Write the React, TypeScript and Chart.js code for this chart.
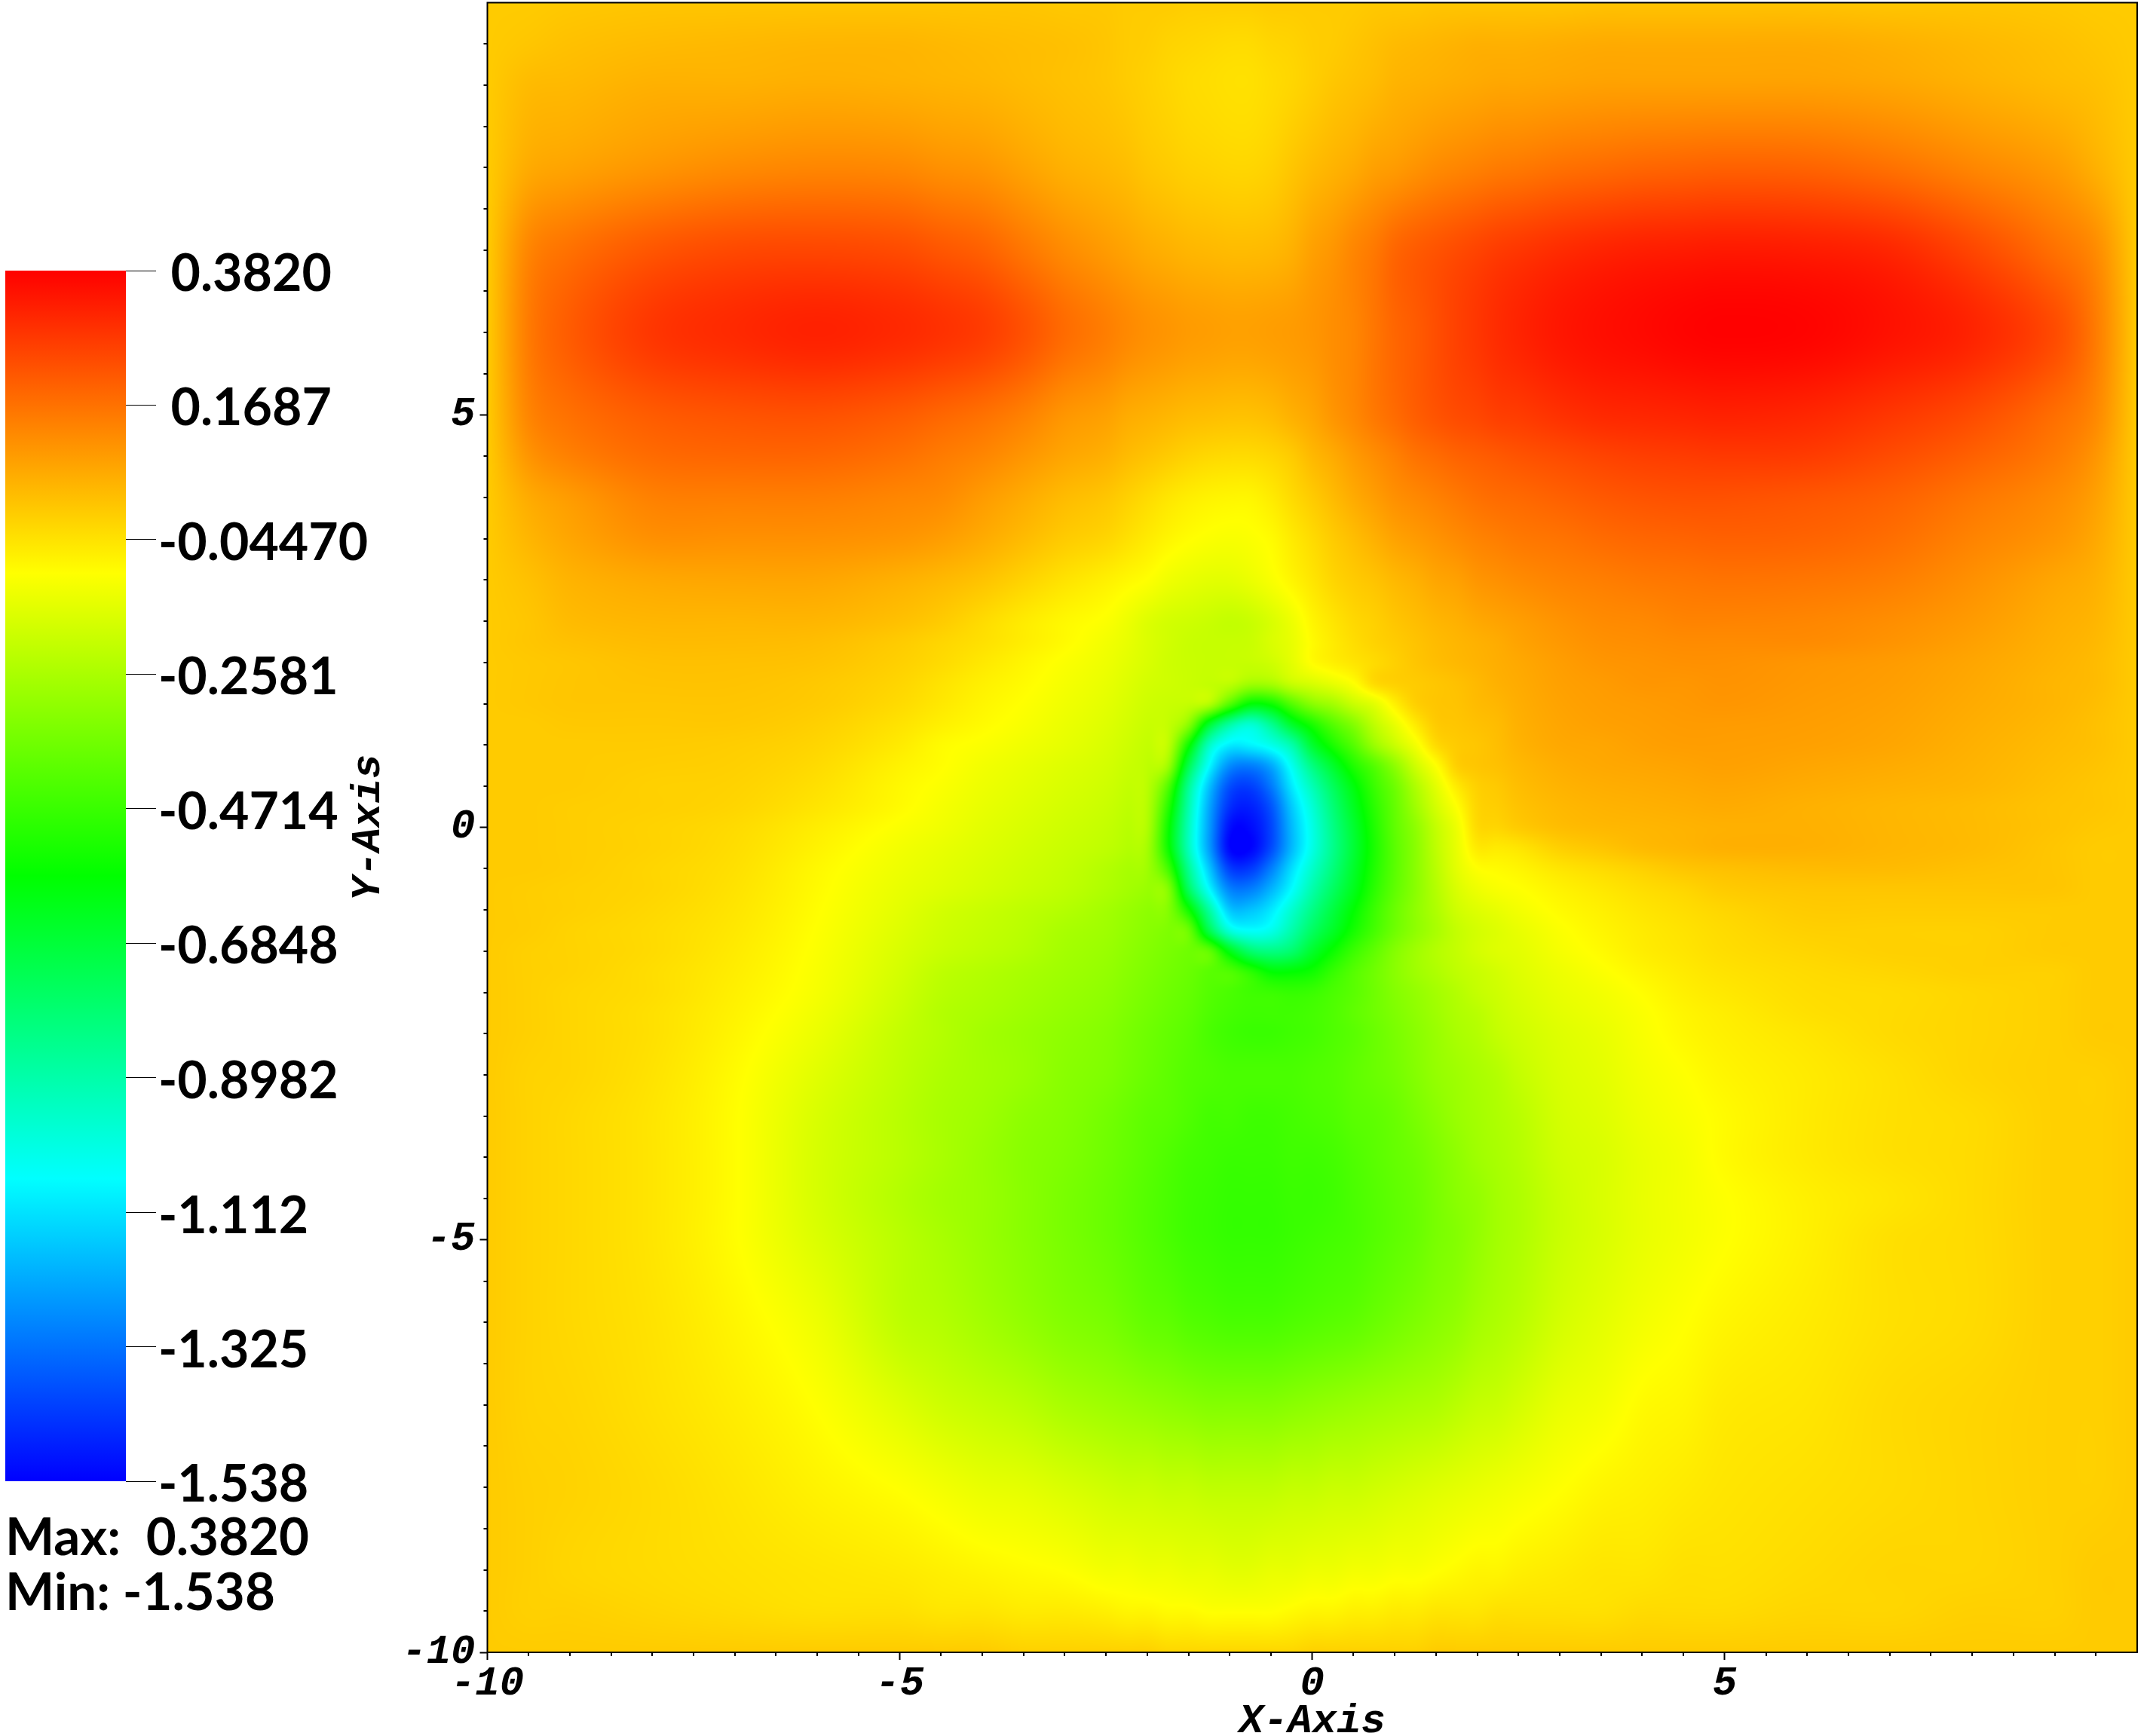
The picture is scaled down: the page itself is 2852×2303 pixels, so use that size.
import React, { useEffect, useRef } from "react";
import { Chart, registerables } from "chart.js";

Chart.register(...registerables);

const valueMin = -1.538;
const valueMax = 0.382;
const legendTickValues = [0.382, 0.1687, -0.0447, -0.2581, -0.4714, -0.6848, -0.8982, -1.112, -1.325, -1.538];
const legendTickLabels = [" 0.3820", " 0.1687", "-0.04470", "-0.2581", "-0.4714", "-0.6848", "-0.8982", "-1.112", "-1.325", "-1.538"];
const legendMaxText = "Max:  0.3820";
const legendMinText = "Min: -1.538";
const majorTicks = [-10, -5, 0, 5];
const minorTicks = [-9.5,-9,-8.5,-8,-7.5,-7,-6.5,-6,-5.5,-4.5,-4,-3.5,-3,-2.5,-2,-1.5,-1,-0.5,0.5,1,1.5,2,2.5,3,3.5,4,4.5,5.5,6,6.5,7,7.5,8,8.5,9,9.5];
const xTitle = "X-Axis";
const yTitle = "Y-Axis";

const xNodes = [-10,-9.5,-9,-8,-7,-6,-5,-4.5,-4,-3.5,-3,-2.5,-2.25,-2,-1.75,-1.5,-1.25,-1,-.75,-.5,-.25,0,.25,.5,.75,1,1.25,1.5,1.75,2,2.25,2.5,3,3.5,4,4.5,5,6,7,8,9,9.5,10];
const yNodes = [10,9.5,9,8,7,6,5,4.5,4,3.5,3,2.5,2.25,2,1.75,1.5,1.25,1,.75,.5,.25,0,-.25,-.5,-.75,-1,-1.25,-1.5,-1.75,-2,-2.25,-2.5,-3,-3.5,-4,-4.5,-5,-6,-7,-8,-9,-9.5,-10];

const fieldRows = [
[0,0,.005,.01,.01,.01,.01,.01,.01,.01,.005, .005,0,0,0,-.005,-.005,-.005,-.005,0,0,0,0,0,.005,.005,.005,.01,.01,.01,.01,.01, .01,.015,.015,.015,.015,.015,.01,.01,.005,0,0],
[0,.01,.02,.03,.035,.04,.04,.035,.03,.025,.02, .01,0,-.005,-.015,-.02,-.025,-.03,-.03,-.02,-.015,-.005,0,.01,.02,.03,.035,.04,.045,.05,.05,.05, .055,.06,.06,.06,.06,.06,.05,.035,.02,.01,0],
[0,.03,.035,.05,.05,.055,.05,.045,.04,.03,.02, .01,0,-.01,-.02,-.03,-.035,-.04,-.04,-.03,-.02,-.005,.01,.02,.03,.045,.05,.055,.06,.065,.07,.07, .075,.08,.08,.08,.08,.08,.07,.05,.03,.02,0],
[0,.06,.075,.1,.12,.13,.125,.11,.1,.075,.05, .035,.025,.01,0,-.01,-.015,-.02,-.02,-.01,.01,.03,.045,.06,.08,.09,.105,.12,.13,.14,.15,.155, .17,.18,.19,.195,.2,.195,.17,.13,.09,.05,0],
[0,.13,.17,.22,.245,.25,.24,.22,.2,.16,.12, .09,.075,.06,.05,.04,.035,.03,.03,.035,.05,.08,.1,.13,.155,.19,.21,.225,.24,.255,.27,.28, .3,.315,.325,.33,.335,.33,.31,.25,.17,.12,0],
[0,.15,.21,.28,.305,.32,.305,.29,.27,.23,.18, .145,.125,.11,.1,.09,.085,.08,.08,.085,.09,.1,.115,.13,.16,.19,.21,.235,.26,.28,.3,.315, .34,.355,.365,.375,.38,.375,.35,.315,.24,.15,0],
[0,.13,.17,.21,.225,.23,.21,.19,.17,.14,.1, .08,.06,.05,.04,.03,.025,.02,.02,.03,.05,.07,.1,.125,.155,.18,.205,.225,.24,.25,.265,.27, .29,.305,.31,.315,.32,.31,.28,.24,.175,.125,0],
[0,.1,.14,.18,.19,.19,.17,.15,.13,.1,.07, .05,.03,.015,0,-.015,-.025,-.03,-.03,-.02,0,.035,.06,.09,.115,.14,.165,.18,.195,.205,.215,.225, .24,.255,.265,.27,.275,.27,.24,.2,.15,.1,0],
[0,.06,.09,.14,.145,.145,.13,.12,.09,.06,.03, .01,-.01,-.03,-.05,-.065,-.075,-.08,-.08,-.06,-.03,0,.03,.06,.085,.11,.125,.14,.155,.17,.18,.185, .2,.215,.225,.23,.23,.22,.2,.16,.12,.08,0],
[0,.04,.07,.11,.11,.11,.1,.085,.06,.03,0, -.02,-.04,-.06,-.08,-.095,-.105,-.11,-.105,-.09,-.06,-.03,0,.025,.05,.075,.09,.105,.12,.135,.145,.155, .165,.18,.19,.195,.2,.195,.175,.135,.1,.065,0],
[0,.02,.045,.065,.07,.07,.05,.035,.015,-.015,-.045, -.07,-.085,-.1,-.125,-.14,-.15,-.15,-.135,-.11,-.08,-.05,-.02,0,.015,.035,.05,.07,.08,.1,.11,.12, .135,.145,.155,.16,.165,.16,.145,.11,.07,.05,0],
[0,.01,.03,.04,.04,.04,.02,0,-.03,-.06,-.085, -.105,-.13,-.16,-.18,-.19,-.2,-.21,-.2,-.17,-.13,-.08,-.05,-.025,-.01,.01,.025,.04,.05,.065,.075,.085, .105,.12,.125,.135,.135,.13,.115,.09,.055,.04,0],
[0,.01,.02,.03,.03,.025,0,-.02,-.04,-.065,-.09, -.12,-.14,-.165,-.185,-.2,-.205,-.205,-.2,-.17,-.14,-.09,-.06,-.035,-.015,0,.015,.03,.04,.05,.06,.075, .095,.11,.115,.12,.12,.12,.105,.08,.05,.035,0],
[0,.005,.01,.02,.02,.015,-.01,-.03,-.055,-.08,-.105, -.13,-.15,-.17,-.19,-.2,-.205,-.205,-.205,-.19,-.15,-.095,-.07,-.05,-.03,-.01,.01,.025,.035,.045,.055,.065, .085,.1,.105,.11,.11,.1,.09,.07,.045,.03,0],
[0,.005,.01,.015,.015,.005,-.02,-.045,-.07,-.09,-.115, -.14,-.16,-.18,-.19,-.2,-.21,-.22,-.27,-.26,-.2,-.17,-.14,-.1,-.03,-.01,0,.01,.02,.035,.05,.06, .08,.09,.1,.1,.105,.095,.085,.065,.04,.03,0],
[0,.005,.01,.01,.01,0,-.03,-.055,-.08,-.1,-.125, -.15,-.17,-.19,-.2,-.21,-.24,-.42,-.58,-.55,-.42,-.32,-.27,-.2,-.15,-.07,-.01,.01,.015,.03,.04,.055, .075,.085,.09,.095,.1,.09,.08,.06,.04,.025,0],
[0,0,.005,.005,.005,-.01,-.045,-.07,-.09,-.11,-.135, -.16,-.18,-.2,-.21,-.32,-.66,-.88,-.97,-.85,-.66,-.53,-.42,-.33,-.22,-.14,-.06,0,.01,.02,.03,.05, .07,.08,.085,.09,.09,.085,.075,.055,.035,.02,0],
[0,0,0,0,-.005,-.02,-.06,-.09,-.105,-.125,-.145, -.17,-.19,-.21,-.22,-.55,-.94,-1.09,-1.08,-1.02,-.9,-.67,-.53,-.42,-.29,-.2,-.12,-.03,0,.01,.025,.045, .065,.07,.08,.085,.085,.08,.07,.05,.03,.02,0],
[0,0,0,-.005,-.01,-.03,-.075,-.095,-.12,-.14,-.16, -.18,-.2,-.22,-.28,-.72,-1.06,-1.27,-1.3,-1.22,-1.03,-.82,-.66,-.52,-.42,-.31,-.19,-.1,-.01,.01,.02,.035, .055,.065,.07,.075,.08,.07,.06,.045,.025,.015,0],
[0,0,0,-.01,-.015,-.04,-.085,-.105,-.13,-.15,-.17, -.19,-.21,-.23,-.42,-.85,-1.17,-1.39,-1.42,-1.31,-1.1,-.92,-.75,-.6,-.47,-.37,-.25,-.15,-.06,-.01,.005,.025, .045,.055,.06,.065,.07,.06,.05,.04,.02,.01,0],
[0,0,-.005,-.01,-.02,-.05,-.09,-.115,-.14,-.16,-.18, -.2,-.22,-.24,-.5,-.9,-1.22,-1.45,-1.48,-1.38,-1.16,-.98,-.8,-.64,-.5,-.39,-.28,-.18,-.1,-.02,-.005,.015, .035,.045,.05,.055,.06,.05,.04,.03,.015,.01,0],
[0,0,-.005,-.015,-.03,-.065,-.105,-.125,-.15,-.17,-.19, -.21,-.23,-.25,-.55,-.93,-1.24,-1.51,-1.52,-1.41,-1.19,-1.01,-.83,-.67,-.52,-.4,-.31,-.21,-.13,-.03,-.02,0, .025,.035,.04,.045,.05,.05,.04,.03,.015,.005,0],
[0,0,-.005,-.015,-.035,-.075,-.12,-.14,-.16,-.18,-.2, -.22,-.24,-.27,-.55,-.93,-1.24,-1.53,-1.535,-1.4,-1.19,-1.01,-.84,-.68,-.53,-.41,-.32,-.22,-.14,-.06,-.06,-.05, -.01,.01,.03,.04,.05,.05,.04,.03,.01,0,0],
[0,0,-.005,-.02,-.04,-.085,-.13,-.15,-.17,-.19,-.21, -.24,-.26,-.28,-.45,-.85,-1.16,-1.42,-1.43,-1.3,-1.12,-.96,-.81,-.66,-.52,-.41,-.32,-.23,-.15,-.1,-.09,-.08, -.05,-.03,-.01,.01,.02,.03,.03,.02,.01,0,0],
[0,-.005,-.01,-.02,-.045,-.09,-.14,-.16,-.18,-.2,-.22, -.25,-.27,-.29,-.33,-.75,-1.06,-1.29,-1.3,-1.2,-1.06,-.9,-.76,-.63,-.5,-.4,-.32,-.24,-.17,-.13,-.11,-.1, -.075,-.055,-.035,-.02,0,.01,.01,.01,.01,0,0],
[0,-.005,-.01,-.025,-.05,-.095,-.15,-.18,-.2,-.22,-.24, -.27,-.29,-.31,-.33,-.55,-.88,-1.16,-1.17,-1.1,-.97,-.83,-.7,-.58,-.47,-.38,-.31,-.25,-.19,-.16,-.14,-.12, -.09,-.07,-.05,-.035,-.02,0,0,0,0,0,0],
[0,-.005,-.015,-.03,-.055,-.1,-.16,-.19,-.21,-.23,-.26, -.28,-.3,-.32,-.34,-.38,-.72,-.99,-1.05,-1.02,-.9,-.76,-.65,-.54,-.45,-.37,-.31,-.26,-.21,-.18,-.16,-.14, -.105,-.08,-.06,-.045,-.03,-.01,-.01,-.01,0,0,0],
[0,-.01,-.015,-.03,-.06,-.105,-.17,-.2,-.22,-.24,-.27, -.29,-.31,-.33,-.35,-.37,-.4,-.62,-.78,-.82,-.78,-.66,-.56,-.47,-.4,-.33,-.28,-.24,-.21,-.18,-.16,-.15, -.115,-.09,-.065,-.05,-.035,-.02,-.01,-.01,0,0,0],
[0,-.01,-.015,-.035,-.065,-.11,-.18,-.22,-.24,-.26,-.28, -.3,-.32,-.34,-.36,-.38,-.41,-.43,-.5,-.58,-.58,-.55,-.48,-.42,-.37,-.32,-.28,-.25,-.22,-.2,-.18,-.16, -.13,-.105,-.08,-.06,-.045,-.03,-.02,-.01,-.01,0,0],
[0,-.01,-.02,-.035,-.07,-.115,-.19,-.23,-.25,-.27,-.29, -.31,-.33,-.35,-.37,-.39,-.42,-.44,-.46,-.47,-.48,-.47,-.44,-.41,-.37,-.33,-.3,-.27,-.24,-.21,-.19,-.17, -.14,-.12,-.095,-.07,-.055,-.035,-.03,-.02,-.01,0,0],
[0,-.01,-.02,-.04,-.075,-.125,-.2,-.24,-.26,-.28,-.3, -.32,-.34,-.36,-.38,-.4,-.43,-.45,-.46,-.46,-.46,-.45,-.43,-.4,-.37,-.34,-.31,-.28,-.25,-.23,-.2,-.18, -.15,-.13,-.105,-.08,-.065,-.04,-.03,-.02,-.01,0,0],
[0,-.01,-.02,-.04,-.08,-.135,-.21,-.24,-.27,-.29,-.31, -.33,-.35,-.37,-.39,-.41,-.44,-.46,-.47,-.47,-.46,-.45,-.43,-.41,-.38,-.35,-.32,-.29,-.26,-.24,-.21,-.19, -.16,-.14,-.11,-.085,-.07,-.05,-.03,-.02,-.01,0,0],
[0,-.015,-.02,-.045,-.09,-.155,-.22,-.25,-.27,-.29,-.32, -.34,-.36,-.38,-.4,-.42,-.43,-.44,-.44,-.44,-.44,-.43,-.42,-.4,-.38,-.36,-.33,-.3,-.28,-.26,-.24,-.21, -.17,-.15,-.12,-.1,-.08,-.06,-.04,-.02,-.01,-.01,0],
[0,-.015,-.025,-.05,-.095,-.17,-.23,-.26,-.28,-.31,-.33, -.36,-.38,-.4,-.41,-.43,-.45,-.45,-.46,-.46,-.45,-.44,-.43,-.41,-.4,-.38,-.35,-.32,-.29,-.27,-.25,-.23, -.18,-.16,-.13,-.11,-.09,-.06,-.04,-.03,-.01,-.01,0],
[0,-.015,-.025,-.05,-.095,-.175,-.23,-.26,-.29,-.32,-.34, -.37,-.39,-.41,-.43,-.45,-.46,-.47,-.47,-.47,-.46,-.46,-.45,-.43,-.41,-.39,-.37,-.34,-.31,-.28,-.26,-.24, -.19,-.17,-.14,-.12,-.09,-.06,-.04,-.03,-.01,-.01,0],
[0,-.015,-.025,-.05,-.095,-.175,-.24,-.27,-.29,-.32,-.35, -.38,-.4,-.42,-.44,-.46,-.47,-.48,-.48,-.48,-.47,-.47,-.46,-.44,-.42,-.4,-.38,-.35,-.32,-.3,-.27,-.25, -.2,-.17,-.14,-.12,-.1,-.07,-.05,-.03,-.01,-.01,0],
[0,-.015,-.025,-.05,-.095,-.165,-.23,-.26,-.29,-.32,-.35, -.38,-.4,-.42,-.44,-.46,-.47,-.48,-.48,-.48,-.47,-.46,-.45,-.44,-.42,-.4,-.38,-.35,-.33,-.3,-.27,-.25, -.2,-.17,-.14,-.12,-.1,-.07,-.04,-.03,-.01,-.01,0],
[0,-.015,-.025,-.045,-.08,-.13,-.22,-.24,-.27,-.3,-.33, -.35,-.37,-.39,-.4,-.42,-.43,-.44,-.44,-.44,-.43,-.42,-.41,-.4,-.38,-.36,-.34,-.32,-.3,-.27,-.25,-.23, -.18,-.15,-.12,-.1,-.08,-.06,-.04,-.03,-.01,-.01,0],
[0,-.015,-.02,-.04,-.065,-.1,-.16,-.19,-.21,-.23,-.26, -.28,-.29,-.3,-.31,-.32,-.33,-.33,-.33,-.33,-.32,-.31,-.3,-.29,-.28,-.27,-.26,-.25,-.23,-.21,-.2,-.18, -.14,-.12,-.09,-.08,-.06,-.05,-.03,-.02,-.01,-.01,0],
[0,-.01,-.015,-.03,-.05,-.075,-.1,-.12,-.14,-.15,-.17, -.19,-.2,-.2,-.21,-.21,-.22,-.22,-.22,-.22,-.21,-.21,-.2,-.2,-.19,-.18,-.17,-.16,-.15,-.14,-.13,-.12, -.1,-.08,-.07,-.06,-.05,-.04,-.03,-.02,-.01,-.01,0],
[0,-.01,-.02,-.03,-.04,-.05,-.06,-.07,-.08,-.09,-.1, -.12,-.12,-.13,-.13,-.14,-.14,-.15,-.15,-.14,-.14,-.13,-.13,-.12,-.12,-.11,-.11,-.1,-.09,-.08,-.08,-.07, -.06,-.05,-.05,-.04,-.04,-.03,-.02,-.02,-.01,0,0],
[0,-.01,-.01,-.02,-.03,-.04,-.04,-.05,-.05,-.06,-.06, -.07,-.08,-.08,-.09,-.09,-.1,-.1,-.1,-.1,-.09,-.08,-.08,-.07,-.07,-.06,-.06,-.05,-.05,-.05,-.04,-.04, -.04,-.04,-.03,-.03,-.03,-.02,-.02,-.01,-.01,0,0],
[0,0,0,0,0,0,0,0,0,-.01,-.01, -.01,-.01,-.01,-.02,-.02,-.02,-.02,-.02,-.02,-.02,-.01,-.01,-.01,-.01,-.01,-.01,0,0,0,0,0, 0,0,0,0,0,0,0,0,0,0,0],
];

const colorStops = [
  [0, 0, 0, 255],
  [0.25, 0, 255, 255],
  [0.5, 0, 255, 0],
  [0.75, 255, 255, 0],
  [1, 255, 0, 0],
];

function colorAt(t: number): number[] {
  const c = Math.max(0, Math.min(1, t));
  for (let i = 0; i < colorStops.length - 1; i++) {
    const a = colorStops[i];
    const b = colorStops[i + 1];
    if (c <= b[0]) {
      const f = (c - a[0]) / (b[0] - a[0]);
      return [a[1] + (b[1] - a[1]) * f, a[2] + (b[2] - a[2]) * f, a[3] + (b[3] - a[3]) * f];
    }
  }
  return [255, 0, 0];
}

const TENSION = 1;

// Hermite weights of a shading position between grid nodes (renderer only, data stays as read).
function nodeWeights(nodes: number[], value: number) {
  const last = nodes.length - 1;
  const asc = nodes[last] > nodes[0];
  let i = 0;
  while (i < last - 1 && (asc ? nodes[i + 1] <= value : nodes[i + 1] >= value)) i++;
  const i0 = Math.max(0, i - 1);
  const i3 = Math.min(last, i + 2);
  const h = nodes[i + 1] - nodes[i];
  const t = Math.max(0, Math.min(1, (value - nodes[i]) / h));
  const t2 = t * t;
  const t3 = t2 * t;
  const h00 = 2 * t3 - 3 * t2 + 1;
  const h10 = t3 - 2 * t2 + t;
  const h01 = -2 * t3 + 3 * t2;
  const h11 = t3 - t2;
  const ka = (TENSION * h) / (nodes[i + 1] - nodes[i0]);
  const kb = (TENSION * h) / (nodes[i3] - nodes[i]);
  const idx = [i0, i, i + 1, i3];
  const w = [-h10 * ka, h00 - h11 * kb, h01 + h10 * ka, h11 * kb];
  return { idx, w };
}

const heatmapShading = {
  id: "heatmapShading",
  beforeDatasetsDraw(chart: any) {
    const { ctx, chartArea, scales } = chart;
    const left = Math.round(chartArea.left);
    const top = Math.round(chartArea.top);
    const w = Math.round(chartArea.right) - left;
    const h = Math.round(chartArea.bottom) - top;
    const img = ctx.createImageData(w, h);
    const lut = new Uint8ClampedArray(4096 * 3);
    for (let i = 0; i < 4096; i++) {
      const c = colorAt(i / 4095);
      lut[i * 3] = c[0];
      lut[i * 3 + 1] = c[1];
      lut[i * 3 + 2] = c[2];
    }
    const colW: any[] = [];
    for (let px = 0; px < w; px++) colW.push(nodeWeights(xNodes, scales.x.getValueForPixel(left + px + 0.5)));
    let o = 0;
    for (let py = 0; py < h; py++) {
      const ry = nodeWeights(yNodes, scales.y.getValueForPixel(top + py + 0.5));
      for (let px = 0; px < w; px++) {
        const rx = colW[px];
        let v = 0;
        for (let a = 0; a < 4; a++) {
          const row = fieldRows[ry.idx[a]];
          const wy = ry.w[a];
          v += wy * (rx.w[0] * row[rx.idx[0]] + rx.w[1] * row[rx.idx[1]] + rx.w[2] * row[rx.idx[2]] + rx.w[3] * row[rx.idx[3]]);
        }
        let k = Math.round(((v - valueMin) / (valueMax - valueMin)) * 4095);
        k = k < 0 ? 0 : k > 4095 ? 4095 : k;
        img.data[o] = lut[k * 3];
        img.data[o + 1] = lut[k * 3 + 1];
        img.data[o + 2] = lut[k * 3 + 2];
        img.data[o + 3] = 255;
        o += 4;
      }
    }
    ctx.putImageData(img, left, top);
  },
};

const axisFrame = {
  id: "axisFrame",
  afterDraw(chart: any) {
    const { ctx, chartArea, scales } = chart;
    ctx.save();
    ctx.strokeStyle = "#000";
    ctx.lineWidth = 2;
    ctx.strokeRect(chartArea.left, chartArea.top, chartArea.right - chartArea.left, chartArea.bottom - chartArea.top);
    ctx.beginPath();
    for (const v of minorTicks) {
      const px = Math.round(scales.x.getPixelForValue(v));
      ctx.moveTo(px, chartArea.bottom);
      ctx.lineTo(px, chartArea.bottom + 5);
      const py = Math.round(scales.y.getPixelForValue(v));
      ctx.moveTo(chartArea.left, py);
      ctx.lineTo(chartArea.left - 5, py);
    }
    ctx.stroke();
    ctx.restore();
  },
};

const legendFont = "Lato";

const legendText = {
  id: "legendText",
  afterDraw(chart: any) {
    const { ctx } = chart;
    ctx.save();
    ctx.fillStyle = "#000";
    ctx.font = `bold 69px ${legendFont}`;
    ctx.textBaseline = "middle";
    ctx.textAlign = "left";
    ctx.fillText(legendMaxText, 7, 2041);
    ctx.fillText(legendMinText, 7, 2114);
    ctx.restore();
  },
};

const axisTickFont = { family: "Liberation Mono", size: 54, weight: "bold", style: "italic" };
const axisTitleFont = { family: "Liberation Mono", size: 54, weight: "bold", style: "italic", lineHeight: 0.7 };

const zeroPadding = (s: any) => {
  s.paddingTop = 0;
  s.paddingBottom = 0;
  s.paddingLeft = 0;
  s.paddingRight = 0;
};

export default function App() {
  const mainRef = useRef<HTMLCanvasElement>(null);
  const legendRef = useRef<HTMLCanvasElement>(null);

  useEffect(() => {
    const points: any[] = [];
    yNodes.forEach((y, r) => xNodes.forEach((x, c) => points.push({ x, y, v: fieldRows[r][c] })));

    const main = new Chart(mainRef.current as any, {
      type: "scatter",
      data: { datasets: [{ label: "field", data: points, pointRadius: 0 }] },
      plugins: [heatmapShading, axisFrame],
      options: {
        animation: false,
        responsive: false,
        devicePixelRatio: 1,
        layout: { padding: { top: 3.5, right: 17, left: 0, bottom: 0 } },
        plugins: { legend: { display: false }, tooltip: { enabled: false } },
        scales: {
          x: {
            type: "linear",
            min: -10,
            max: 10,
            afterFit: (s: any) => { s.height = 111; zeroPadding(s); },
            afterBuildTicks: (s: any) => { s.ticks = majorTicks.map((value) => ({ value })); },
            grid: { drawOnChartArea: false, tickLength: 10, tickColor: "#000", tickWidth: 2 },
            border: { display: false },
            ticks: { color: "#000", font: axisTickFont as any, padding: 0, maxRotation: 0, autoSkip: false, callback: (v: any) => String(v) },
            title: { display: true, text: xTitle, color: "#000", font: axisTitleFont as any, padding: { top: 0, bottom: 0 } },
          },
          y: {
            type: "linear",
            min: -10,
            max: 10,
            afterFit: (s: any) => { s.width = 196.5; zeroPadding(s); },
            afterBuildTicks: (s: any) => { s.ticks = majorTicks.map((value) => ({ value })); },
            grid: { drawOnChartArea: false, tickLength: 10, tickColor: "#000", tickWidth: 2 },
            border: { display: false },
            ticks: { color: "#000", font: axisTickFont as any, padding: 6, autoSkip: false, callback: (v: any) => String(v) },
            title: { display: true, text: yTitle, color: "#000", font: axisTitleFont as any, padding: { top: 20, bottom: 0 } },
          },
        },
      } as any,
    });

    const legend = new Chart(legendRef.current as any, {
      type: "bar",
      data: {
        labels: [""],
        datasets: [{
          label: "colour bar",
          data: [[valueMin, valueMax]] as any,
          barPercentage: 1,
          categoryPercentage: 1,
          backgroundColor: (c: any) => {
            const area = c.chart.chartArea;
            if (!area) return "#fff";
            const g = c.chart.ctx.createLinearGradient(0, area.bottom, 0, area.top);
            colorStops.forEach((s) => g.addColorStop(s[0], `rgb(${s[1]},${s[2]},${s[3]})`));
            return g;
          },
        }],
      },
      plugins: [legendText],
      options: {
        animation: false,
        responsive: false,
        devicePixelRatio: 1,
        layout: { padding: { top: 359, bottom: 338, left: 7, right: 0 } },
        plugins: { legend: { display: false }, tooltip: { enabled: false } },
        scales: {
          x: { display: false, grid: { display: false } },
          y: {
            position: "right",
            min: valueMin,
            max: valueMax,
            afterFit: (s: any) => { s.width = 333; zeroPadding(s); },
            afterBuildTicks: (s: any) => { s.ticks = legendTickValues.map((value) => ({ value })); },
            grid: { drawOnChartArea: false, tickLength: 40, tickColor: "#000", tickWidth: 1 },
            border: { display: false },
            ticks: {
              color: "#000",
              font: { family: legendFont, size: 68, weight: "bold" },
              padding: 3,
              labelOffset: 5,
              autoSkip: false,
              callback: (_v: any, i: number) => legendTickLabels[i],
            },
          },
        },
      } as any,
    });

    return () => {
      main.destroy();
      legend.destroy();
    };
  }, []);

  return (
    <div style={{ position: "absolute", left: 0, top: 0, width: 2852, height: 2303, background: "#fff", overflow: "hidden" }}>
      <canvas ref={legendRef} width={500} height={2303} style={{ position: "absolute", left: 0, top: 0, width: 500, height: 2303 }} />
      <canvas ref={mainRef} width={2402} height={2303} style={{ position: "absolute", left: 450, top: 0, width: 2402, height: 2303 }} />
    </div>
  );
}
